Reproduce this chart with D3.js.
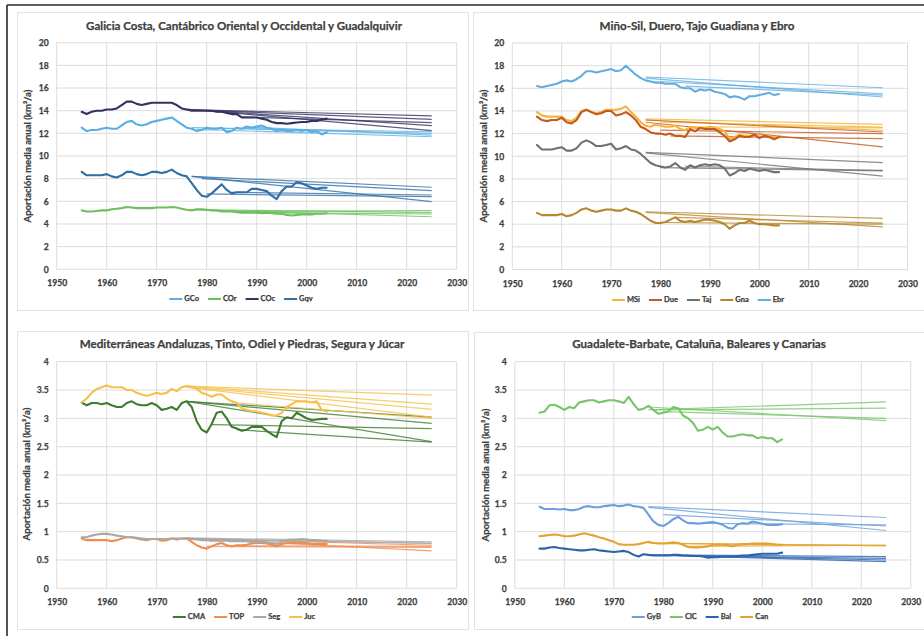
<!DOCTYPE html>
<html><head><meta charset="utf-8">
<script src="https://cdn.jsdelivr.net/npm/d3@7"></script>
<style>
html,body{margin:0;padding:0;background:#fff;}
svg{display:block;}
text{font-family:Lato,"Open Sans",sans-serif;font-weight:bold;fill:#404040;stroke:#404040;stroke-width:0.25px;}
</style></head>
<body>
<svg id="c" width="924" height="636"></svg>
<script>
// ---------- DATA ----------
const years = d3.range(1955, 2005);

// Panel 1
const GCo = [12.5,12.2,12.3,12.3,12.4,12.5,12.4,12.4,12.7,13.0,13.1,12.8,12.7,12.8,13.0,13.1,13.2,13.3,13.4,13.1,12.8,12.5,12.4,12.2,12.3,12.5,12.4,12.4,12.5,12.1,12.2,12.5,12.4,12.6,12.5,12.6,12.7,12.5,12.4,12.2,12.3,12.2,12.2,12.3,12.2,12.3,12.1,12.2,11.9,12.1];
const COr = [5.2,5.1,5.1,5.15,5.2,5.2,5.3,5.35,5.4,5.5,5.45,5.4,5.4,5.4,5.4,5.45,5.45,5.45,5.5,5.45,5.35,5.25,5.2,5.3,5.3,5.25,5.2,5.2,5.1,5.1,5.1,5.05,5.0,5.0,5.0,5.0,4.95,5.0,4.95,4.9,4.9,4.8,4.75,4.8,4.85,4.85,4.85,4.9,4.9,4.95];
const COc = [13.9,13.7,13.9,14.0,14.0,14.1,14.1,14.2,14.5,14.8,14.8,14.6,14.5,14.6,14.7,14.7,14.7,14.7,14.7,14.5,14.2,14.1,14.0,14.0,14.0,14.0,14.0,13.9,13.9,13.8,13.7,13.7,13.4,13.4,13.4,13.4,13.3,13.2,13.0,12.9,12.9,12.85,12.9,12.95,13.0,13.0,13.1,13.1,13.2,13.3];
const Gqv = [8.6,8.3,8.3,8.3,8.3,8.4,8.2,8.1,8.3,8.6,8.6,8.4,8.3,8.4,8.6,8.6,8.5,8.6,8.8,8.5,8.3,8.2,7.6,7.0,6.5,6.4,6.7,7.1,7.5,7.0,6.7,6.8,6.8,6.8,7.1,7.1,7.0,6.9,6.5,6.2,6.9,7.3,7.3,7.7,7.6,7.4,7.2,7.1,7.2,7.2];
// trend lines: [start year, start value, value in 2025]
const trendGCo = [[1977,12.5,12.14],[1978,12.35,11.7],[1982,12.45,12.0],[1988,12.55,11.85]];
const trendCOr = [[1977,5.25,4.64],[1980,5.25,5.0],[1985,5.1,5.17],[1990,5.0,4.88]];
const trendCOc = [[1976,14.1,13.55],[1978,14.05,13.24],[1976,14.15,12.24],[1980,14.0,12.68],[1987,13.45,12.94]];
const trendGqv = [[1977,8.2,7.24],[1977,8.2,5.97],[1979,8.0,6.94],[1980,6.65,6.41],[1985,6.8,6.56]];

// Panel 2
const MSi = [13.9,13.6,13.5,13.5,13.5,13.5,13.2,13.1,13.4,14.0,14.1,13.9,13.8,13.9,14.1,14.1,14.1,14.2,14.4,13.9,13.5,13.0,12.7,12.6,12.8,12.7,12.6,12.6,12.7,12.4,12.3,12.6,12.5,12.5,12.5,12.6,12.5,12.4,12.2,11.5,11.7,11.9,11.8,11.8,11.9,11.7,11.8,11.8,11.6,11.8];
const Due = [13.5,13.2,13.1,13.2,13.2,13.4,13.0,12.9,13.2,13.9,14.1,13.9,13.7,13.8,14.0,14.0,13.6,13.7,13.9,13.6,13.2,12.6,12.4,12.1,12.0,12.0,11.9,12.0,11.8,11.8,11.7,12.4,12.2,12.5,12.4,12.4,12.4,12.1,11.8,11.3,11.5,11.8,11.7,11.7,11.9,11.6,11.8,11.7,11.5,11.7];
const Taj = [11.0,10.6,10.6,10.6,10.7,10.8,10.5,10.5,10.7,11.2,11.4,11.2,10.9,10.9,11.0,11.1,10.6,10.7,10.9,10.6,10.5,10.2,9.8,9.4,9.2,9.1,9.0,9.1,9.4,9.0,8.8,9.2,9.0,9.2,9.3,9.2,9.3,9.2,8.9,8.3,8.5,8.8,8.7,8.9,8.8,8.7,8.8,8.7,8.6,8.6];
const Gna = [5.0,4.8,4.8,4.8,4.8,4.9,4.7,4.8,5.0,5.3,5.4,5.2,5.1,5.2,5.3,5.3,5.2,5.2,5.4,5.2,5.1,4.9,4.6,4.3,4.1,4.1,4.2,4.4,4.6,4.3,4.2,4.3,4.2,4.3,4.4,4.4,4.3,4.2,4.0,3.6,3.9,4.1,4.1,4.3,4.1,4.0,4.0,3.95,3.9,3.9];
const Ebr = [16.2,16.1,16.2,16.3,16.4,16.6,16.7,16.6,16.8,17.1,17.5,17.5,17.4,17.5,17.6,17.7,17.5,17.6,18.0,17.6,17.2,16.9,16.7,16.6,16.5,16.5,16.4,16.4,16.4,16.1,16.0,16.0,15.7,15.9,15.8,15.9,15.7,15.6,15.5,15.2,15.3,15.2,15.0,15.3,15.3,15.4,15.5,15.6,15.4,15.5];
const trendMSi = [[1977,13.3,12.82],[1977,13.2,12.29],[1980,13.0,12.58],[1986,12.6,12.5]];
const trendDue = [[1977,13.2,12.14],[1977,13.0,10.82],[1980,12.3,12.0],[1982,11.8,11.56]];
const trendTaj = [[1977,10.35,9.44],[1977,10.3,8.24],[1980,9.0,8.7],[1985,9.1,8.75]];
const trendGna = [[1977,5.1,4.51],[1977,5.05,3.77],[1980,4.15,4.0],[1983,4.6,4.1]];
const trendEbr = [[1977,17.0,16.05],[1977,16.9,15.23],[1980,16.6,15.52],[1985,16.2,15.4]];

// Panel 3
const CMA = [3.28,3.23,3.27,3.27,3.25,3.27,3.23,3.2,3.2,3.27,3.3,3.25,3.23,3.23,3.27,3.23,3.15,3.17,3.2,3.15,3.27,3.3,3.2,2.95,2.8,2.75,2.9,3.1,3.12,3.0,2.85,2.82,2.78,2.8,2.85,2.85,2.85,2.78,2.72,2.67,2.95,3.02,3.0,3.1,3.05,3.0,2.97,2.98,2.99,2.99];
const TOP = [0.88,0.85,0.85,0.85,0.85,0.85,0.83,0.85,0.88,0.9,0.9,0.88,0.86,0.85,0.87,0.87,0.84,0.85,0.88,0.86,0.88,0.88,0.82,0.76,0.72,0.7,0.74,0.78,0.8,0.76,0.74,0.76,0.76,0.77,0.79,0.8,0.8,0.79,0.77,0.74,0.78,0.8,0.8,0.8,0.8,0.8,0.78,0.78,0.78,0.78];
const Seg = [0.9,0.9,0.93,0.95,0.96,0.96,0.95,0.93,0.92,0.9,0.9,0.89,0.88,0.87,0.87,0.87,0.87,0.87,0.88,0.88,0.88,0.88,0.87,0.86,0.85,0.85,0.84,0.84,0.84,0.84,0.83,0.83,0.83,0.83,0.82,0.82,0.82,0.81,0.8,0.78,0.82,0.85,0.86,0.86,0.87,0.86,0.85,0.85,0.84,0.84];
const Juc = [3.28,3.35,3.45,3.52,3.55,3.58,3.55,3.55,3.55,3.5,3.5,3.45,3.42,3.4,3.42,3.45,3.43,3.45,3.52,3.48,3.55,3.57,3.55,3.52,3.45,3.42,3.38,3.42,3.42,3.35,3.3,3.27,3.18,3.15,3.13,3.12,3.1,3.08,3.05,3.05,3.1,3.2,3.25,3.3,3.3,3.3,3.28,3.3,3.15,3.12];
const trendCMA = [[1976,3.3,3.02],[1976,3.3,2.91],[1976,3.3,2.59],[1981,2.89,2.82],[1986,2.8,2.58]];
const trendTOP = [[1976,0.88,0.76],[1976,0.88,0.66],[1980,0.74,0.72],[1985,0.75,0.74]];
const trendSeg = [[1976,0.89,0.82],[1976,0.88,0.79],[1980,0.86,0.8]];
const trendJuc = [[1976,3.57,3.41],[1976,3.57,3.25],[1976,3.56,3.16],[1976,3.55,3.02],[1985,3.28,3.0]];

// Panel 4
const GyB = [1.44,1.4,1.4,1.4,1.39,1.4,1.38,1.38,1.4,1.44,1.45,1.43,1.43,1.45,1.46,1.47,1.45,1.46,1.48,1.45,1.44,1.42,1.3,1.18,1.12,1.1,1.15,1.22,1.26,1.2,1.15,1.15,1.14,1.15,1.16,1.17,1.15,1.12,1.07,1.05,1.13,1.15,1.14,1.18,1.16,1.14,1.12,1.12,1.12,1.13];
const ClC = [3.1,3.12,3.23,3.24,3.2,3.15,3.2,3.18,3.28,3.3,3.32,3.32,3.28,3.3,3.32,3.32,3.3,3.27,3.38,3.25,3.15,3.17,3.22,3.15,3.08,3.1,3.12,3.2,3.18,3.05,3.0,2.92,2.78,2.8,2.85,2.8,2.85,2.75,2.68,2.68,2.7,2.72,2.7,2.7,2.65,2.67,2.65,2.65,2.58,2.63];
const Bal = [0.7,0.7,0.72,0.73,0.71,0.7,0.69,0.68,0.67,0.67,0.68,0.69,0.67,0.66,0.65,0.64,0.65,0.66,0.64,0.59,0.56,0.6,0.59,0.58,0.58,0.58,0.58,0.59,0.59,0.58,0.58,0.57,0.57,0.56,0.54,0.55,0.55,0.56,0.56,0.56,0.57,0.58,0.58,0.59,0.6,0.61,0.61,0.61,0.61,0.63];
const Can = [0.92,0.93,0.94,0.95,0.94,0.92,0.92,0.93,0.95,0.97,0.95,0.93,0.9,0.88,0.85,0.82,0.78,0.77,0.77,0.77,0.78,0.8,0.82,0.8,0.79,0.79,0.8,0.81,0.8,0.77,0.73,0.72,0.72,0.73,0.74,0.77,0.77,0.77,0.76,0.74,0.77,0.78,0.78,0.79,0.79,0.79,0.79,0.78,0.77,0.77];
const trendGyB = [[1977,1.44,1.25],[1977,1.43,1.02],[1980,1.3,1.1],[1985,1.15,1.12]];
const trendClC = [[1977,3.15,3.29],[1978,3.15,3.18],[1977,3.2,2.96],[1980,3.12,3.0]];
const trendBal = [[1977,0.59,0.56],[1977,0.59,0.5],[1980,0.58,0.47],[1985,0.57,0.53]];
const trendCan = [[1977,0.8,0.75],[1980,0.79,0.76],[1985,0.74,0.76]];

const trendEnd = 2025;
const titles = [
  "Galicia Costa, Cantábrico Oriental y Occidental y Guadalquivir",
  "Miño-Sil, Duero, Tajo Guadiana y Ebro",
  "Mediterráneas Andaluzas, Tinto, Odiel y Piedras, Segura y Júcar",
  "Guadalete-Barbate, Cataluña, Baleares y Canarias"
];
const yTitle = "Aportación media anual (km³/a)";
const xTicks = [1950,1960,1970,1980,1990,2000,2010,2020,2030];
const yTicksBig = [0,2,4,6,8,10,12,14,16,18,20];
const yTicksSmall = [0,0.5,1,1.5,2,2.5,3,3.5,4];

// ---------- LAYOUT / STYLE ----------
const panels = [
  {area:[17,12,451,298], px:[56.7,456.7], py:[269.3,42.7], ydom:[0,20], yt:yTicksBig,
   title:titles[0], tx:244, ty:27, tw:316, ytx:29, yty:156, lx:241, ly:299,
   series:[
     {name:"GCo", vals:GCo, trends:trendGCo, color:"#5aaee3"},
     {name:"COr", vals:COr, trends:trendCOr, color:"#6cc05e"},
     {name:"COc", vals:COc, trends:trendCOc, color:"#33325f"},
     {name:"Gqv", vals:Gqv, trends:trendGqv, color:"#2f6ea6"}]},
  {area:[473,12,451,298], px:[512.3,907.5], py:[269.5,43], ydom:[0,20], yt:yTicksBig,
   title:titles[1], tx:697, ty:27, tw:195, ytx:485, yty:156, lx:698, ly:300,
   series:[
     {name:"MSi", vals:MSi, trends:trendMSi, color:"#f4b43c"},
     {name:"Due", vals:Due, trends:trendDue, color:"#c45a1c"},
     {name:"Taj", vals:Taj, trends:trendTaj, color:"#707070"},
     {name:"Gna", vals:Gna, trends:trendGna, color:"#b8862e"},
     {name:"Ebr", vals:Ebr, trends:trendEbr, color:"#62ade0"}]},
  {area:[17,331,451,298], px:[56.7,456.7], py:[588.3,361.7], ydom:[0,4], yt:yTicksSmall,
   title:titles[2], tx:242, ty:345, tw:325, ytx:28, yty:474, lx:244, ly:617,
   series:[
     {name:"CMA", vals:CMA, trends:trendCMA, color:"#3e7b31"},
     {name:"TOP", vals:TOP, trends:trendTOP, color:"#f08c50"},
     {name:"Seg", vals:Seg, trends:trendSeg, color:"#a8a8a8"},
     {name:"Juc", vals:Juc, trends:trendJuc, color:"#f6c04a"}]},
  {area:[474,332,450,297], px:[514.8,910.8], py:[588.3,361.7], ydom:[0,4], yt:yTicksSmall,
   title:titles[3], tx:699, ty:345, tw:254, ytx:487, yty:475, lx:700, ly:617,
   series:[
     {name:"GyB", vals:GyB, trends:trendGyB, color:"#6c9fdc"},
     {name:"ClC", vals:ClC, trends:trendClC, color:"#78c46a"},
     {name:"Bal", vals:Bal, trends:trendBal, color:"#2c63b0"},
     {name:"Can", vals:Can, trends:trendCan, color:"#e4a22e"}]}
];

const svg = d3.select("#c");
svg.append("rect").attr("width",924).attr("height",636).attr("fill","#fff");

function fitText(t, target, fs){
  const w = t.node().getComputedTextLength();
  if (w>0) t.style("font-size", (fs*target/w).toFixed(2)+"px");
}

panels.forEach(p => {
  const g = svg.append("g");
  const [ax,ay,aw,ah] = p.area;
  g.append("rect").attr("x",ax+0.5).attr("y",ay+0.5).attr("width",aw).attr("height",ah)
    .attr("fill","#fff").attr("stroke","#e3e3e3").attr("stroke-width",1);

  const x = d3.scaleLinear().domain([1950,2030]).range(p.px);
  const y = d3.scaleLinear().domain(p.ydom).range(p.py);

  // gridlines
  g.append("g").selectAll("line.h").data(p.yt).join("line")
    .attr("x1",p.px[0]).attr("x2",p.px[1]).attr("y1",d=>y(d)).attr("y2",d=>y(d))
    .attr("stroke","#dcdcdc").attr("stroke-width",1);
  g.append("g").selectAll("line.v").data(xTicks).join("line")
    .attr("x1",d=>x(d)).attr("x2",d=>x(d)).attr("y1",p.py[0]).attr("y2",p.py[1])
    .attr("stroke","#dcdcdc").attr("stroke-width",1);

  // axes (labels only)
  const fmt = d3.format("~g");
  const xa = g.append("g").attr("transform",`translate(0,${p.py[0]})`)
    .call(d3.axisBottom(x).tickValues(xTicks).tickFormat(d3.format("d")).tickSize(0).tickPadding(11));
  xa.select(".domain").remove();
  xa.selectAll("text").style("font-size","8.6px").style("font-family","Lato").style("font-weight","bold")
    .attr("fill","#333").attr("stroke","#333").attr("stroke-width",0.3);
  const ya = g.append("g").attr("transform",`translate(${p.px[0]},0)`)
    .call(d3.axisLeft(y).tickValues(p.yt).tickFormat(fmt).tickSize(0).tickPadding(8));
  ya.select(".domain").remove();
  ya.selectAll("text").style("font-size","8.6px").style("font-family","Lato").style("font-weight","bold")
    .attr("fill","#333").attr("stroke","#333").attr("stroke-width",0.3);

  // trend lines
  const tl = g.append("g");
  p.series.forEach(s => {
    tl.selectAll(null).data(s.trends).join("line")
      .attr("x1",d=>x(d[0])).attr("y1",d=>y(d[1]))
      .attr("x2",x(trendEnd)).attr("y2",d=>y(d[2]))
      .attr("stroke",s.color).attr("stroke-width",1.2).attr("stroke-opacity",0.8);
  });

  // series
  const line = d3.line().x((d,i)=>x(years[i])).y(d=>y(d));
  p.series.forEach(s => {
    g.append("path").datum(s.vals).attr("d",line).attr("fill","none")
      .attr("stroke",s.color).attr("stroke-width",2.1)
      .attr("stroke-linejoin","round").attr("stroke-linecap","round");
  });

  // title
  const t = g.append("text").attr("x",p.tx).attr("y",p.ty).attr("text-anchor","middle")
    .attr("dominant-baseline","middle").style("font-size","11px").attr("fill","#404040").text(p.title);
  fitText(t, p.tw, 11);

  // y axis title
  const yt = g.append("text").attr("transform",`translate(${p.ytx},${p.yty}) rotate(-90)`)
    .attr("text-anchor","middle").attr("dominant-baseline","middle")
    .style("font-size","8px").attr("fill","#404040").text(yTitle);
  fitText(yt, 133, 8);

  // legend
  const lg = g.append("g");
  const items = [];
  let cx = 0;
  p.series.forEach(s => {
    const it = lg.append("g");
    it.append("line").attr("x1",0).attr("x2",13).attr("y1",0).attr("y2",0)
      .attr("stroke",s.color).attr("stroke-width",2);
    const tt = it.append("text").attr("x",15).attr("y",0).attr("dominant-baseline","middle")
      .style("font-size","7.5px").attr("fill","#404040").text(s.name);
    const w = 15 + tt.node().getComputedTextLength();
    items.push({it, off:cx});
    cx += w + 9;
  });
  const total = cx - 9;
  items.forEach(o => o.it.attr("transform",`translate(${p.lx - total/2 + o.off},${p.ly})`));
});

// outer frame
svg.append("line").attr("x1",7).attr("x2",924).attr("y1",5).attr("y2",5).attr("stroke","#2a2a2a").attr("stroke-width",1.6);
svg.append("line").attr("x1",7).attr("x2",7).attr("y1",5).attr("y2",636).attr("stroke","#2a2a2a").attr("stroke-width",1.6);
</script>
</body></html>
